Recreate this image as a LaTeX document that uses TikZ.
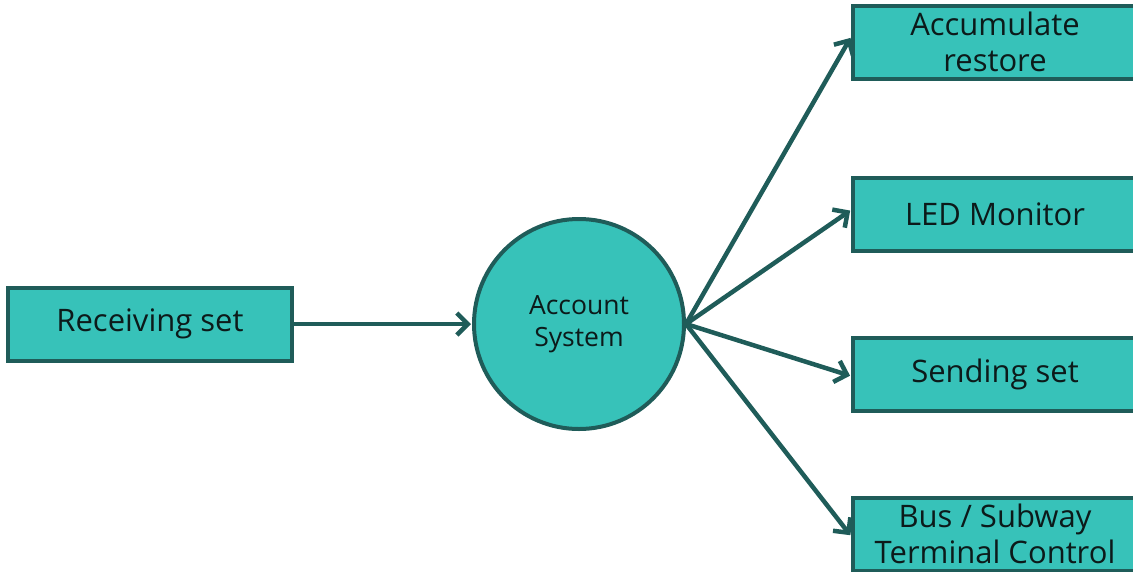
\documentclass[tikz,border=0pt]{standalone}
\usepackage{fontspec}
\setmainfont{Open Sans}
\usetikzlibrary{arrows.meta}
\definecolor{tealfill}{HTML}{37C2B9}
\definecolor{tealline}{HTML}{1F5C59}
\definecolor{txt}{HTML}{0C1A1A}
\tikzset{
  boxnode/.style={draw=tealline, line width=4pt, fill=tealfill, minimum width=284pt, minimum height=73pt, inner sep=0pt, align=center, text=txt, font=\fontsize{31}{36}\selectfont},
  circnode/.style={draw=tealline, line width=4pt, fill=tealfill, circle, minimum size=210pt, inner sep=0pt, align=center, text=txt, font=\fontsize{26.5}{32}\selectfont},
  conn/.style={draw=tealline, line width=4.5pt, -{Straight Barb[length=11pt,width=22pt,line width=4.5pt]}, shorten >=1pt}
}
\begin{document}
\begin{tikzpicture}[x=1pt,y=-1pt]
\useasboundingbox (0,0) rectangle (1133,571);
\clip (0,0) rectangle (1133,571);
\node[boxnode] (recv) at (150,324) {Receiving set};
\node[circnode] (sys) at (579,324) {Account\\System};
\node[boxnode] (acc) at (995,42) {Accumulate\\restore};
\node[boxnode] (led) at (995,214) {LED Monitor};
\node[boxnode] (send) at (995,374) {Sending set};
\node[boxnode] (bus) at (995,534) {Bus / Subway\\Terminal Control};
\coordinate (hub) at (sys.east);
\draw[conn] (recv.east) -- (sys.west);
\draw[conn] (hub) -- ([yshift=5pt]acc.west);
\draw[conn] (hub) -- ([yshift=4pt]led.west);
\draw[conn] (hub) -- ([yshift=-2pt]send.west);
\draw[conn] (hub) -- ([yshift=-2pt]bus.west);
\end{tikzpicture}
\end{document}
